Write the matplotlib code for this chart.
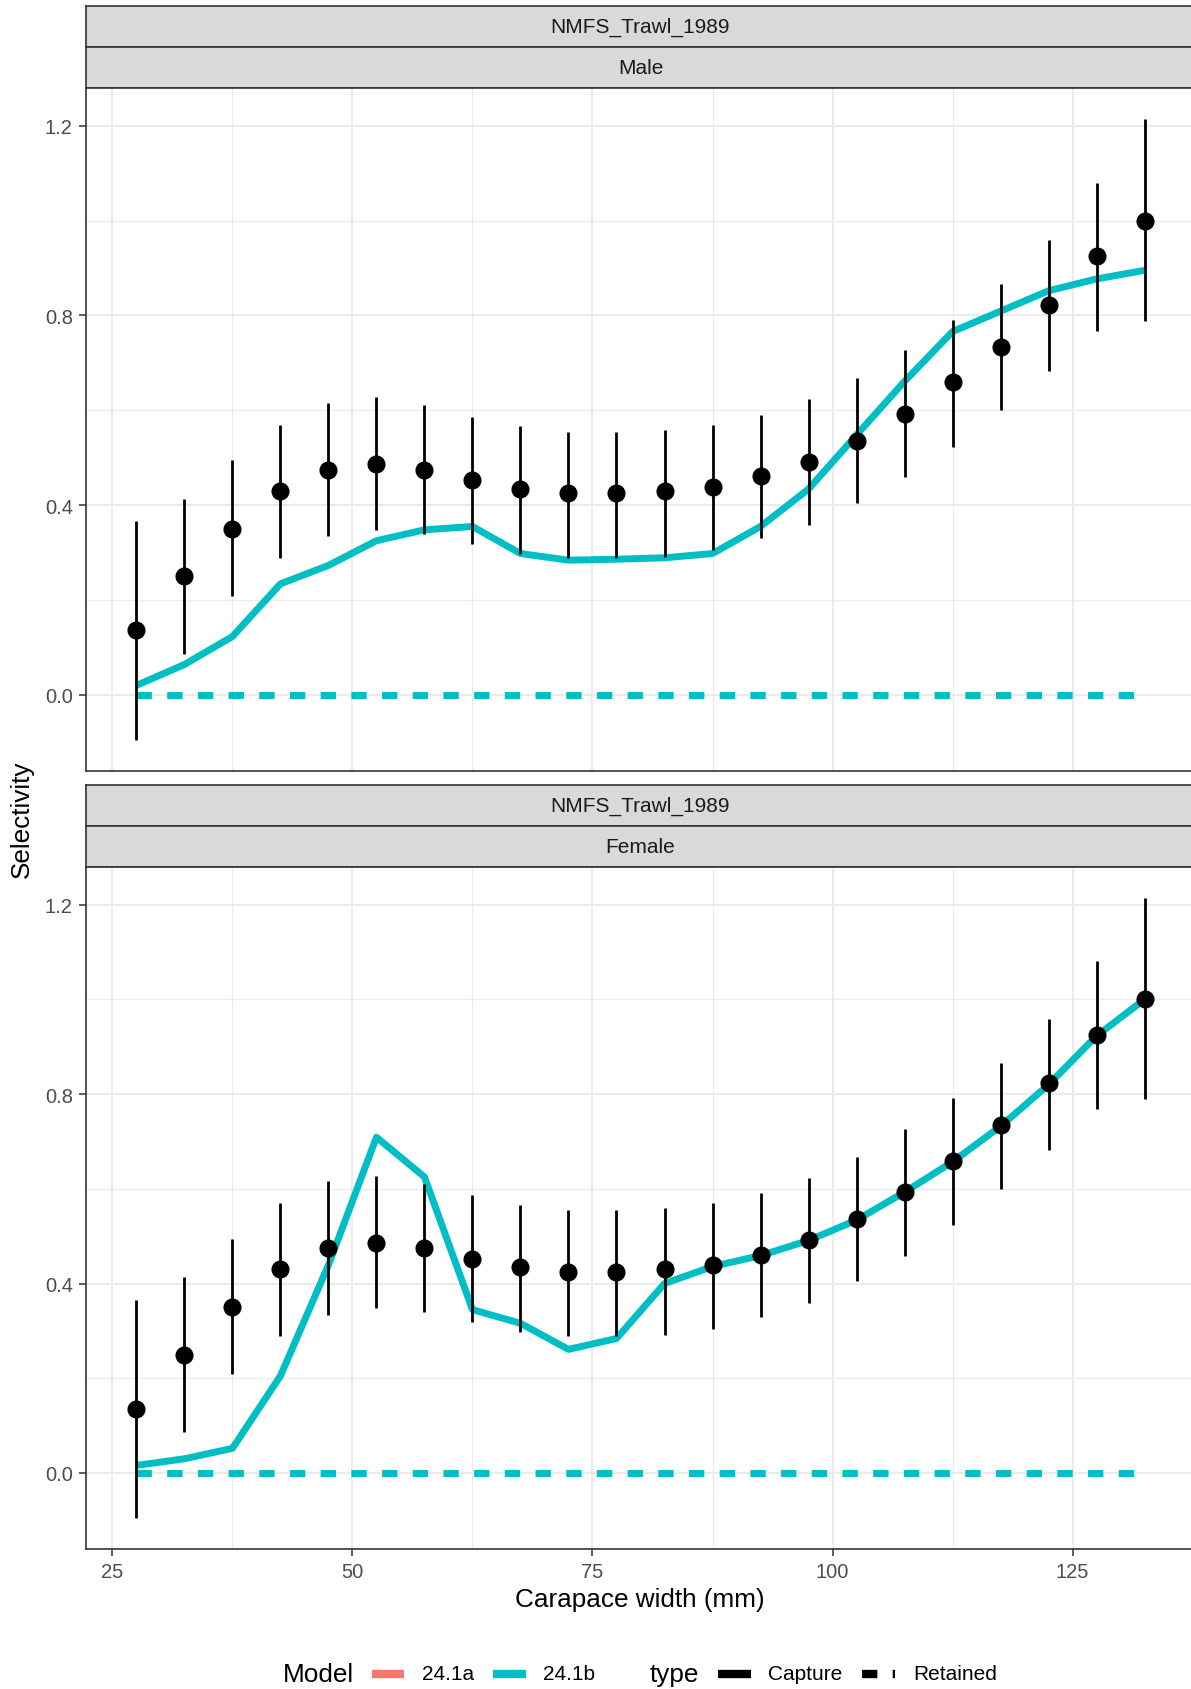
import matplotlib
matplotlib.use("Agg")
import matplotlib.pyplot as plt
from matplotlib.lines import Line2D
import numpy as np

plt.rcParams['font.family'] = ['Liberation Sans', 'DejaVu Sans']
plt.rcParams['lines.scale_dashes'] = False

# ---------------- data ----------------
size_bins = [27.5, 32.5, 37.5, 42.5, 47.5, 52.5, 57.5, 62.5, 67.5, 72.5, 77.5,
             82.5, 87.5, 92.5, 97.5, 102.5, 107.5, 112.5, 117.5, 122.5, 127.5, 132.5]
obs_sel = [0.136, 0.250, 0.350, 0.430, 0.475, 0.486, 0.475, 0.452, 0.434, 0.425, 0.425,
           0.430, 0.439, 0.461, 0.491, 0.536, 0.593, 0.659, 0.734, 0.823, 0.925, 1.000]
obs_lo = [-0.095, 0.086, 0.209, 0.289, 0.334, 0.348, 0.339, 0.318, 0.298, 0.289, 0.289,
          0.291, 0.305, 0.330, 0.359, 0.405, 0.459, 0.523, 0.600, 0.682, 0.768, 0.789]
obs_hi = [0.366, 0.414, 0.495, 0.570, 0.616, 0.627, 0.611, 0.586, 0.566, 0.555, 0.555,
          0.559, 0.570, 0.591, 0.623, 0.668, 0.727, 0.791, 0.866, 0.959, 1.080, 1.214]
male_capture = [0.020, 0.064, 0.123, 0.234, 0.273, 0.325, 0.348, 0.355, 0.298, 0.284, 0.286,
                0.289, 0.298, 0.355, 0.434, 0.548, 0.661, 0.766, 0.809, 0.852, 0.877, 0.895]
female_capture = [0.016, 0.030, 0.052, 0.205, 0.439, 0.709, 0.625, 0.345, 0.316, 0.261, 0.284,
                  0.400, 0.436, 0.459, 0.491, 0.534, 0.593, 0.657, 0.732, 0.820, 0.923, 1.000]
retained = [0.0] * len(size_bins)

fleet = "NMFS_Trawl_1989"
sexes = ["Male", "Female"]
models = ["24.1a", "24.1b"]
model_colors = ["#F8766D", "#00BFC4"]
types = ["Capture", "Retained"]

x_ticks = [25, 50, 75, 100, 125]
y_ticks = [0.0, 0.4, 0.8, 1.2]
y_tick_labels = ["0.0", "0.4", "0.8", "1.2"]

# ---------------- layout (pixels) ----------------
W, H = 1191, 1690
DPI = 100
fig = plt.figure(figsize=(W / DPI, H / DPI), dpi=DPI)
fig.patch.set_facecolor("white")


def rect(x0, y0, x1, y1):
    return [x0 / W, 1 - y1 / H, (x1 - x0) / W, (y1 - y0) / H]


PX_L, PX_R = 86, 1195
panels = [
    dict(strip1=(7, 48), strip2=(48, 89), plot=(89, 772), sex=sexes[0], cap=male_capture, xlabels=False),
    dict(strip1=(786, 827), strip2=(827, 868), plot=(868, 1550), sex=sexes[1], cap=female_capture, xlabels=True),
]

BORDER = "#333333"
GRID = "#EBEBEB"
teal = model_colors[1]
DASH = (0, (11.05, 11.05))

for p in panels:
    # strips
    for (s0, s1), label in [(p["strip1"], fleet), (p["strip2"], p["sex"])]:
        sa = fig.add_axes(rect(PX_L, s0, PX_R, s1))
        sa.set_facecolor("#D9D9D9")
        sa.set_xticks([])
        sa.set_yticks([])
        for sp in sa.spines.values():
            sp.set_color(BORDER)
            sp.set_linewidth(1.2)
        sa.text(0.5, 0.5, label, transform=sa.transAxes, ha="center", va="center",
                fontsize=15, color="#1A1A1A")

    y0, y1 = p["plot"]
    ax = fig.add_axes(rect(PX_L, y0, PX_R, y1))
    ax.set_xlim(22.25, 137.75)
    ax.set_ylim(-0.1605, 1.2795)
    ax.set_axisbelow(True)

    ax.set_xticks(x_ticks)
    ax.set_xticks([37.5, 62.5, 87.5, 112.5, 137.5], minor=True)
    ax.set_yticks(y_ticks)
    ax.set_yticks([0.2, 0.6, 1.0], minor=True)
    ax.set_yticklabels(y_tick_labels)
    ax.grid(which="major", color=GRID, lw=1.5)
    ax.grid(which="minor", color=GRID, lw=0.8)
    ax.tick_params(axis="both", which="minor", length=0)
    ax.tick_params(axis="both", which="major", length=5, width=1.1, color=BORDER,
                   labelsize=14.5, labelcolor="#4D4D4D", pad=4.5)
    if not p["xlabels"]:
        ax.tick_params(axis="x", which="major", length=0, labelbottom=False)
    for sp in ax.spines.values():
        sp.set_color(BORDER)
        sp.set_linewidth(1.2)

    # fitted capture selectivity (24.1b)
    ax.plot(size_bins, p["cap"], color=teal, lw=5, solid_capstyle="butt", zorder=2)
    # retained
    ax.plot(size_bins, retained, color=teal, lw=5, linestyle=DASH,
            dash_capstyle="butt", zorder=2)
    # observed
    ax.vlines(size_bins, obs_lo, obs_hi, color="black", lw=2, zorder=3)
    ax.plot(size_bins, obs_sel, "o", color="black", ms=12, zorder=4)

# axis titles
fig.text(640 / W, 1 - 1600 / H, "Carapace width (mm)", ha="center", va="center",
         fontsize=18.8, color="black")
fig.text(22 / W, 1 - 819 / H, "Selectivity", ha="center", va="center",
         rotation=90, fontsize=18.8, color="black")

# legend (drawn in pixel coordinates)
lg = fig.add_axes([0, 0, 1, 1])
lg.set_xlim(0, W)
lg.set_ylim(H, 0)
lg.axis("off")
lg.patch.set_alpha(0)
LY = 1675
lg.text(283, LY, "Model", ha="left", va="center", fontsize=18.8)
lg.add_line(Line2D([372, 404], [LY, LY], color=model_colors[0], lw=6, solid_capstyle="butt"))
lg.text(422, LY, models[0], ha="left", va="center", fontsize=15)
lg.add_line(Line2D([493, 526], [LY, LY], color=model_colors[1], lw=6, solid_capstyle="butt"))
lg.text(543, LY, models[1], ha="left", va="center", fontsize=15)
lg.text(650, LY, "type", ha="left", va="center", fontsize=18.8)
lg.add_line(Line2D([718, 751], [LY, LY], color="black", lw=6, solid_capstyle="butt"))
lg.text(768, LY, types[0], ha="left", va="center", fontsize=15)
lg.add_line(Line2D([862, 895], [LY, LY], color="black", lw=6, linestyle=DASH,
                   dash_capstyle="butt"))
lg.text(913, LY, types[1], ha="left", va="center", fontsize=15)

fig.savefig("out.png", dpi=DPI)
